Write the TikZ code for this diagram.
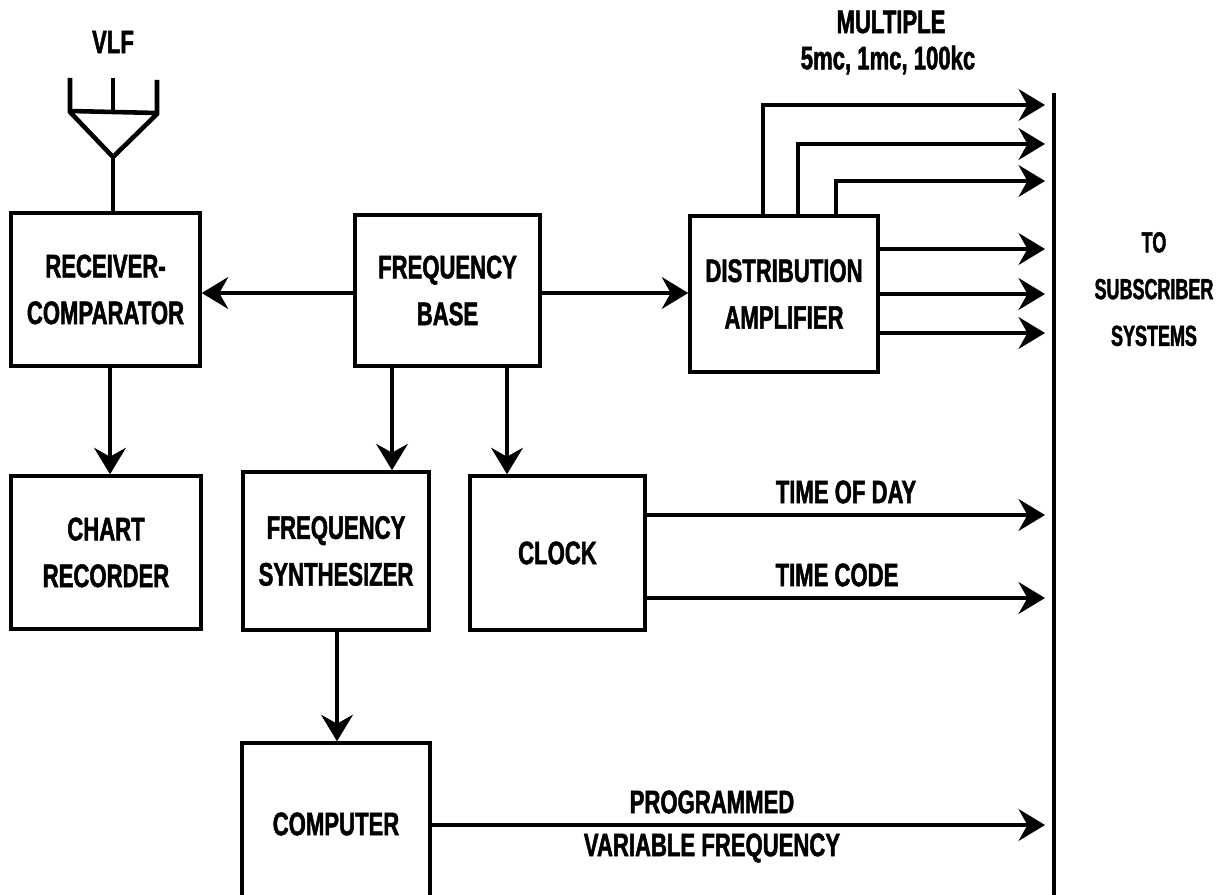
\documentclass[tikz,border=0pt]{standalone}
\usepackage{fontspec}
\newfontfamily\cond{Liberation Sans}[FakeStretch=0.68,FakeBold=1.5]
\newfontfamily\condx{Liberation Sans}[FakeStretch=0.62,FakeBold=1.5]
\usetikzlibrary{arrows.meta}
\tikzset{
  lbl/.style={font=\cond\bfseries\fontsize{18.5}{26.6}\selectfont, align=center, inner sep=0pt},
  sidelbl/.style={font=\condx\bfseries\fontsize{16.5}{26.6}\selectfont, align=center, inner sep=0pt},
  blk/.style={draw, line width=2pt, lbl},
  conn/.style={line width=2.8pt, -{Stealth[length=15pt,width=18pt,inset=5pt]}},
  wire/.style={line width=2.6pt},
}
\begin{document}
\begin{tikzpicture}[x=0.02cm,y=-0.02cm]
\clip (0,0) rectangle (1216,895);
\fill[white] (0,0) rectangle (1216,895);

% blocks
\node[blk, minimum width=3.78cm, minimum height=3.06cm] (rc) at (105.5,289.5) {RECEIVER-\\COMPARATOR};
\node[blk, minimum width=3.70cm, minimum height=3.02cm] (fb) at (447.5,290.5) {FREQUENCY\\BASE};
\node[blk, minimum width=3.76cm, minimum height=3.12cm] (da) at (784,294) {DISTRIBUTION\\AMPLIFIER};
\node[blk, minimum width=3.80cm, minimum height=3.06cm] (cr) at (106,552.5) {CHART\\RECORDER};
\node[blk, minimum width=3.72cm, minimum height=3.16cm] (fs) at (336,551) {FREQUENCY\\SYNTHESIZER};
\node[blk, minimum width=3.50cm, minimum height=3.08cm] (ck) at (557.5,553) {CLOCK};
\node[blk, minimum width=3.76cm, minimum height=3.24cm] (cp) at (336,824) {COMPUTER};

% labels
\node[lbl] (vlf) at (113,42) {VLF};
\node[lbl] (mult) at (891,22) {MULTIPLE};
\node[lbl] (freqs) at (888,60) {5mc, 1mc, 100kc};
\node[sidelbl, text depth=0pt] (subs) at (1154,289) {TO\\SUBSCRIBER\\SYSTEMS};
\node[lbl] (tod) at (846,492) {TIME OF DAY};
\node[lbl] (tc) at (837,575) {TIME CODE};
\node[lbl] (prog) at (712,802) {PROGRAMMED};
\node[lbl] (varf) at (712,848) {VARIABLE FREQUENCY};

% antenna
\coordinate (apex) at (113,157);
\draw[wire, line join=miter] (70,78) -- (70,112) -- (apex) -- (157,114) -- (157,80);
\draw[wire] (70,111) -- (157,113);
\draw[wire] (113,78) -- (113,112);
\draw[wire] (apex) -- (apex |- rc.north);

% bus bar
\coordinate (bt) at (1054,93);
\coordinate (bb) at (1054,900);
\draw[line width=2.4pt] (bt) -- (bb);

% frequency base connections
\coordinate (hy) at (0,293);
\draw[conn] (fb.west |- hy) -- (rc.east |- hy);
\draw[conn] (fb.east |- hy) -- (da.west |- hy);
\coordinate (x0) at (110,420);
\coordinate (x1) at (392,420);
\coordinate (x2) at (507,420);
\coordinate (x3) at (337,700);
\draw[conn] (x0 |- rc.south) -- (x0 |- cr.north);
\draw[conn] (x1 |- fb.south) -- (x1 |- fs.north);
\draw[conn] (x2 |- fb.south) -- (x2 |- ck.north);
\draw[conn] (x3 |- fs.south) -- (x3 |- cp.north);

% distribution amplifier outputs
\coordinate (s1) at (763,105);
\coordinate (s2) at (798,144);
\coordinate (s3) at (836,181);
\coordinate (e1) at (1045,105);
\coordinate (e2) at (1045,144);
\coordinate (e3) at (1045,181);
\draw[conn, line join=miter] (s1 |- da.north) -- (s1) -- (e1);
\draw[conn, line join=miter] (s2 |- da.north) -- (s2) -- (e2);
\draw[conn, line join=miter] (s3 |- da.north) -- (s3) -- (e3);
\coordinate (e4) at (1045,249);
\coordinate (e5) at (1045,294);
\coordinate (e6) at (1045,333);
\draw[conn] (e4 -| da.east) -- (e4);
\draw[conn] (e5 -| da.east) -- (e5);
\draw[conn] (e6 -| da.east) -- (e6);

% clock and computer outputs
\coordinate (e7) at (1045,515);
\coordinate (e8) at (1045,598);
\coordinate (e9) at (1045,825);
\draw[conn] (e7 -| ck.east) -- (e7);
\draw[conn] (e8 -| ck.east) -- (e8);
\draw[conn] (e9 -| cp.east) -- (e9);
\end{tikzpicture}
\end{document}
